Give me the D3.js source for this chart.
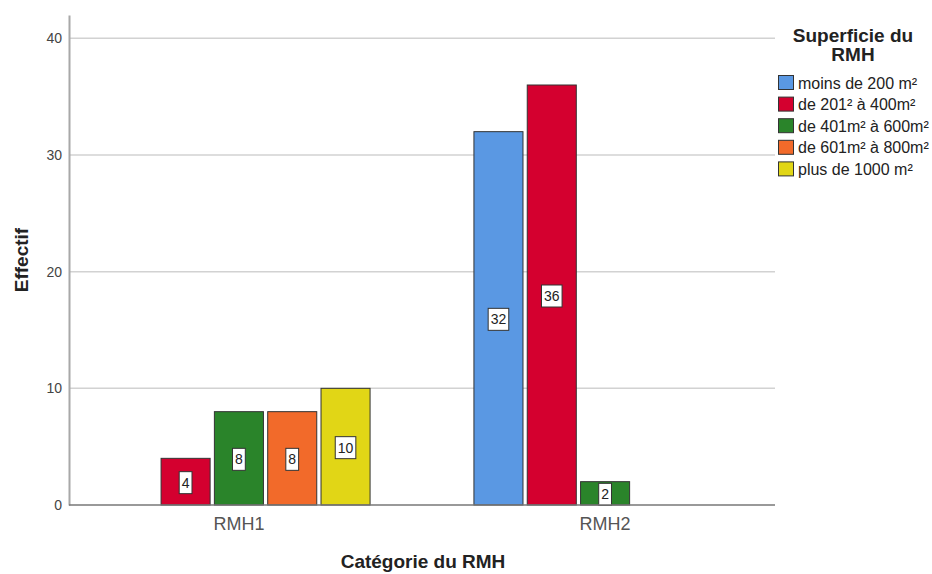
<!DOCTYPE html>
<html><head><meta charset="utf-8">
<script src="https://cdn.jsdelivr.net/npm/d3@7"></script>
<style>
html,body{margin:0;padding:0;background:#fff;}
svg{display:block;font-family:"Liberation Sans",Arial,sans-serif;}
</style></head>
<body>
<svg id="chart" width="932" height="574"></svg>
<script>
const categories = ["RMH1", "RMH2"];
const seriesNames = ["moins de 200 m²", "de 201² à 400m²", "de 401m² à 600m²", "de 601m² à 800m²", "plus de 1000 m²"];
const seriesColors = ["#5a98e3", "#d4002f", "#2a842a", "#f26a2a", "#e1d616"];
const valMoins200 = [null, 32];
const val201_400 = [4, 36];
const val401_600 = [8, 2];
const val601_800 = [8, null];
const valPlus1000 = [10, null];
const yTicks = [0, 10, 20, 30, 40];
const legendTitle = ["Superficie du", "RMH"];
const xTitle = "Catégorie du RMH";
const yTitle = "Effectif";

const seriesValues = [valMoins200, val201_400, val401_600, val601_800, valPlus1000];

const svg = d3.select("#chart");
const plotL = 69, plotR = 775, plotT = 15, plotB = 505;

const y = d3.scaleLinear().domain([0, 42]).range([plotB, plotT]);
const x0 = d3.scaleBand().domain(categories).range([plotL, plotR]).paddingInner(0.272).paddingOuter(0.1);
const x1 = d3.scaleBand().domain(seriesNames).range([0, x0.bandwidth()]).paddingInner(0.08).paddingOuter(0.04);

// gridlines
svg.append("g").selectAll("line").data(yTicks.filter(d => d > 0)).join("line")
  .attr("x1", plotL).attr("x2", plotR)
  .attr("y1", d => y(d)).attr("y2", d => y(d))
  .attr("stroke", "#d2d2d2").attr("stroke-width", 1.5);

// y axis
const yAxis = d3.axisLeft(y).tickValues(yTicks).tickSize(0).tickPadding(7);
const gy = svg.append("g").attr("transform", `translate(${plotL},0)`).call(yAxis);
gy.select(".domain").attr("stroke", "#a8a8a8").attr("stroke-width", 2);
gy.selectAll("text").attr("font-size", 14).attr("fill", "#444").attr("font-family", "Liberation Sans, Arial, sans-serif");

// bars
const barData = [];
categories.forEach((c, ci) => {
  seriesNames.forEach((s, si) => {
    const v = seriesValues[si][ci];
    if (v != null) barData.push({cat: c, ser: s, v: v, color: seriesColors[si]});
  });
});

const bars = svg.append("g").selectAll("g").data(barData).join("g")
  .attr("transform", d => `translate(${x0(d.cat) + x1(d.ser)},0)`);
bars.append("rect")
  .attr("x", 0).attr("width", x1.bandwidth())
  .attr("y", d => y(d.v)).attr("height", d => y(0) - y(d.v))
  .attr("fill", d => d.color).attr("stroke", "#333").attr("stroke-width", 1);

// x axis baseline
const xAxis = d3.axisBottom(x0).tickSize(0).tickPadding(12);
const gx = svg.append("g").attr("transform", `translate(0,${plotB})`).call(xAxis);
gx.select(".domain").attr("stroke", "#777").attr("stroke-width", 1.5).attr("d", `M${plotL},0H${plotR}`);
gx.selectAll("text").attr("font-size", 18).attr("fill", "#555").attr("font-family", "Liberation Sans, Arial, sans-serif");

// value labels
bars.each(function(d) {
  const g = d3.select(this);
  const cx = x1.bandwidth() / 2;
  const cy = (y(d.v) + y(0)) / 2 + 1;
  const t = g.append("text").attr("x", cx).attr("y", cy)
    .attr("text-anchor", "middle").attr("dominant-baseline", "central")
    .attr("font-size", 14).attr("fill", "#222").text(d.v);
  const w = t.node().getComputedTextLength();
  g.insert("rect", "text")
    .attr("x", cx - w / 2 - 2.5).attr("width", w + 5)
    .attr("y", cy - 11).attr("height", 22)
    .attr("fill", "#fff").attr("stroke", "#333").attr("stroke-width", 1);
});

// axis titles
svg.append("text").attr("x", 423).attr("y", 568).attr("text-anchor", "middle")
  .attr("font-size", 19).attr("font-weight", "bold").attr("fill", "#222").text(xTitle);
svg.append("text").attr("transform", "translate(28,260) rotate(-90)").attr("text-anchor", "middle")
  .attr("font-size", 19).attr("font-weight", "bold").attr("fill", "#222").text(yTitle);

// legend
const lg = svg.append("g");
lg.selectAll("text.title").data(legendTitle).join("text").attr("class", "title")
  .attr("x", 853).attr("y", (d, i) => 42 + i * 19).attr("text-anchor", "middle")
  .attr("font-size", 19).attr("font-weight", "bold").attr("fill", "#222").text(d => d);
const items = lg.selectAll("g.item").data(seriesNames).join("g").attr("class", "item")
  .attr("transform", (d, i) => `translate(778,${75 + i * 21.6})`);
items.append("rect").attr("x", 0.5).attr("y", 0.5).attr("width", 15).attr("height", 14)
  .attr("fill", (d, i) => seriesColors[i]).attr("stroke", "#333").attr("stroke-width", 1);
items.append("text").attr("x", 20).attr("y", 13.5).attr("font-size", 16).attr("fill", "#222").text(d => d);
</script>
</body></html>
